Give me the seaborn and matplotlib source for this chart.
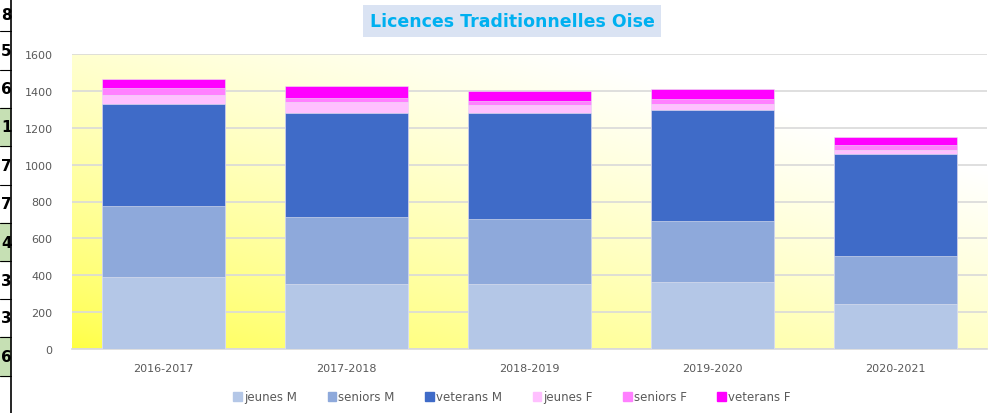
import matplotlib
matplotlib.use("Agg")
import matplotlib.pyplot as plt
import seaborn as sns
import numpy as np
import pandas as pd

# Data
seasons = ["2016-2017", "2017-2018", "2018-2019", "2019-2020", "2020-2021"]
jeunes_m = [389, 354, 354, 362, 242]
seniors_m = [385, 360, 351, 334, 264]
veterans_m = [556, 564, 573, 598, 549]
jeunes_f = [50, 60, 45, 35, 26]
seniors_f = [33, 25, 24, 27, 25]
veterans_f = [54, 61, 50, 52, 45]

series_names = ["jeunes M", "seniors M", "veterans M", "jeunes F", "seniors F", "veterans F"]
series_vals = [jeunes_m, seniors_m, veterans_m, jeunes_f, seniors_f, veterans_f]
colors = ["#B4C7E7", "#8EA9DB", "#3F6BC8", "#FFC0FF", "#FF80FF", "#FF00FF"]

# left margin spreadsheet remnants
side_digits = ["8", "5", "6", "1", "7", "7", "4", "3", "3", "6"]
side_green = [False, False, False, True, False, False, True, False, False, True]

sns.set_theme(style="white")
plt.rcParams['font.family'] = ['DejaVu Sans']

fig = plt.figure(figsize=(10.07, 4.14), dpi=100)
ax = fig.add_axes([72 / 1007, 1 - 350 / 414, 915 / 1007, 295 / 414])

# yellow -> white diagonal gradient behind the plot area
gx, gy = np.meshgrid(np.linspace(0, 1, 300), np.linspace(0, 1, 200))
t = np.clip((gx * 0.9 + gy) / 1.5, 0, 1) ** 0.7
img = np.zeros((200, 300, 3))
img[..., 0] = 1.0
img[..., 1] = 1.0
img[..., 2] = 0.25 + 0.75 * t
ax.imshow(img, extent=[0, 1, 0, 1], transform=ax.transAxes, origin="lower",
          aspect="auto", zorder=0)

# stacked bars: draw cumulative totals from top series down
df = pd.DataFrame({"season": seasons})
cum = np.cumsum(np.array(series_vals), axis=0)
for i in range(len(series_names) - 1, -1, -1):
    df["val"] = cum[i]
    sns.barplot(data=df, x="season", y="val", color=colors[i], width=0.67,
                saturation=1, ax=ax, zorder=3, edgecolor="#E8E8F0", linewidth=0.4)

ax.set_ylim(0, 1600)
ax.set_xlim(-0.5, 4.5)
ax.set_yticks(range(0, 1601, 200))
ax.yaxis.grid(True, color="#D9D9D9", linewidth=1.2, zorder=1)
ax.set_axisbelow(True)
for g in ax.get_ygridlines():
    g.set_zorder(1)
ax.set_xlabel("")
ax.set_ylabel("")
for s in ["top", "right", "left"]:
    ax.spines[s].set_visible(False)
ax.spines["bottom"].set_color("#D9D9D9")
ax.spines["bottom"].set_linewidth(1.2)
ax.tick_params(axis="both", length=0, labelsize=8, colors="#595959", pad=10)
ax.tick_params(axis="y", pad=14)

handles = [plt.Rectangle((0, 0), 1, 1, color=c) for c in colors]
fig.legend(handles, series_names, loc="center", bbox_to_anchor=(512 / 1007, 1 - 398 / 414),
           ncol=6, frameon=False, fontsize=8.5, handlelength=0.7, handleheight=0.7,
           handletextpad=0.2, columnspacing=2.6, labelcolor="#595959")

fig.text(512 / 1007, 1 - 22 / 414, "Licences Traditionnelles Oise", ha="center", va="center",
         fontsize=12.5, fontweight="bold", color="#00B0F0",
         bbox=dict(boxstyle="square,pad=0.4", facecolor="#DAE3F3", edgecolor="none"))

# spreadsheet cells peeking in on the left
row_edges = [0, 32, 71, 109, 147, 186, 224, 262, 300, 338, 377]
for k, d in enumerate(side_digits):
    y0, y1 = row_edges[k], row_edges[k + 1]
    if side_green[k]:
        fig.patches.append(plt.Rectangle((0, 1 - y1 / 414), 10 / 1007, (y1 - y0) / 414,
                                         transform=fig.transFigure, color="#C6E0B4"))
    fig.text(1 / 1007, 1 - (y0 + y1) / 2 / 414, d, ha="left", va="center",
             fontsize=11, fontweight="bold", color="black")
    fig.add_artist(plt.Line2D([0, 11 / 1007], [1 - y1 / 414] * 2, color="black", linewidth=0.8))
fig.add_artist(plt.Line2D([11 / 1007] * 2, [0, 1], color="black", linewidth=1.2))

fig.savefig("out.png", dpi=100)
